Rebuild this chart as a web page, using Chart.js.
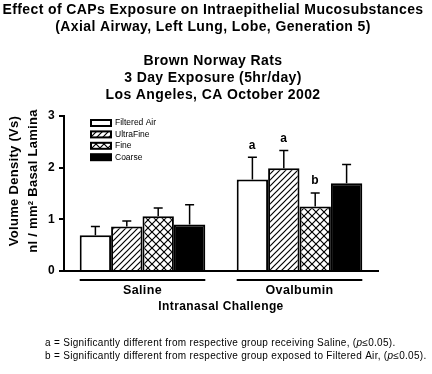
<!DOCTYPE html>
<html>
<head>
<meta charset="utf-8">
<script src="https://cdn.jsdelivr.net/npm/chart.js@4.4.1/dist/chart.umd.min.js"></script>
<style>
  html, body { margin: 0; padding: 0; background: #fff; }
  #wrap { width: 432px; height: 374px; }
</style>
</head>
<body>
<div id="wrap"><canvas id="chart"></canvas></div>
<script>
const groups = ["Saline", "Ovalbumin"];
const exposures = ["Filtered Air", "UltraFine", "Fine", "Coarse"];

const filteredAir = [0.69, 1.77];
const ultraFine = [0.86, 1.99];
const fine = [1.06, 1.25];
const coarse = [0.90, 1.70];

// upper error bars (SE)
const filteredAirErr = [0.17, 0.43];
const ultraFineErr = [0.11, 0.34];
const fineErr = [0.16, 0.26];
const coarseErr = [0.38, 0.36];

// significance letters above the bars
const filteredAirMarks = ["", "a"];
const ultraFineMarks = ["", "a"];
const fineMarks = ["", "b"];
const coarseMarks = ["", ""];

const yTicks = [0, 1, 2, 3];

const titleLines = [
  "Effect of CAPs Exposure on Intraepithelial Mucosubstances",
  "(Axial Airway, Left Lung, Lobe, Generation 5)",
  "",
  "Brown Norway Rats",
  "3 Day Exposure (5hr/day)",
  "Los Angeles, CA October 2002"
];
const yTitle = ["Volume Density (Vs)", "nl / mm\u00b2 Basal Lamina"];
const footnotes = [
  ["a = Significantly different from respective group receiving Saline, (", "p", "\u22640.05)."],
  ["b = Significantly different from respective group exposed to Filtered Air, (", "p", "\u22640.05)."]
];

const FONT = "'Liberation Sans', Arial, sans-serif";
Chart.defaults.font.family = FONT;
Chart.defaults.color = "#000";

function makePattern(size, draw) {
  const c = document.createElement("canvas");
  c.width = c.height = size;
  const g = c.getContext("2d");
  g.fillStyle = "#fff";
  g.fillRect(0, 0, size, size);
  g.strokeStyle = "#000";
  g.lineWidth = 1.2;
  draw(g, size);
  return g.createPattern(c, "repeat");
}

const slash = (g, s) => {
  g.beginPath();
  g.moveTo(0, s); g.lineTo(s, 0);
  g.moveTo(-1, 1); g.lineTo(1, -1);
  g.moveTo(s - 1, s + 1); g.lineTo(s + 1, s - 1);
  g.stroke();
};
const backslash = (g, s) => {
  g.beginPath();
  g.moveTo(0, 0); g.lineTo(s, s);
  g.moveTo(-1, s - 1); g.lineTo(1, s + 1);
  g.moveTo(s - 1, -1); g.lineTo(s + 1, 1);
  g.stroke();
};

const ultraFill = makePattern(6, slash);
const fineFill = makePattern(8, (g, s) => { slash(g, s); backslash(g, s); });

const datasets = [
  { label: exposures[0], data: filteredAir, err: filteredAirErr, marks: filteredAirMarks, backgroundColor: "#ffffff" },
  { label: exposures[1], data: ultraFine, err: ultraFineErr, marks: ultraFineMarks, backgroundColor: ultraFill },
  { label: exposures[2], data: fine, err: fineErr, marks: fineMarks, backgroundColor: fineFill },
  { label: exposures[3], data: coarse, err: coarseErr, marks: coarseMarks, backgroundColor: "#000000" }
].map(d => ({
  ...d,
  borderColor: "#000",
  borderWidth: 2,
  barPercentage: 1,
  categoryPercentage: 0.8
}));

const extras = {
  id: "extras",
  beforeDraw(chart) {
    // the original text is set a little looser than canvas default
    chart.ctx.letterSpacing = "0.4px";
  },
  afterDatasetsDraw(chart) {
    const ctx = chart.ctx;
    const y = chart.scales.y;
    const area = chart.chartArea;
    ctx.save();
    ctx.strokeStyle = "#000";
    ctx.fillStyle = "#000";

    // error bars + letters
    chart.data.datasets.forEach((ds, i) => {
      chart.getDatasetMeta(i).data.forEach((bar, j) => {
        const top = y.getPixelForValue(ds.data[j] + ds.err[j]);
        ctx.lineWidth = 1.5;
        ctx.beginPath();
        ctx.moveTo(bar.x, bar.y);
        ctx.lineTo(bar.x, top);
        ctx.moveTo(bar.x - 4.5, top);
        ctx.lineTo(bar.x + 4.5, top);
        ctx.stroke();
        if (ds.marks[j]) {
          ctx.font = "bold 12px " + FONT;
          ctx.textAlign = "center";
          ctx.textBaseline = "middle";
          ctx.fillText(ds.marks[j], bar.x, top - 12);
        }
      });
    });

    // group underline below the axis
    const first = chart.getDatasetMeta(0).data;
    const last = chart.getDatasetMeta(chart.data.datasets.length - 1).data;
    ctx.lineWidth = 2;
    groups.forEach((g, j) => {
      const x0 = first[j].x - first[j].width / 2;
      const x1 = last[j].x + last[j].width / 2;
      ctx.beginPath();
      ctx.moveTo(x0, area.bottom + 9);
      ctx.lineTo(x1, area.bottom + 9);
      ctx.stroke();
    });

    // y axis title (two rotated lines, sitting a bit above centre like the original)
    ctx.font = "bold 13px " + FONT;
    ctx.letterSpacing = "0.3px";
    ctx.textAlign = "center";
    ctx.textBaseline = "middle";
    yTitle.forEach((t, k) => {
      ctx.save();
      ctx.translate(14 + k * 19.5, 181);
      ctx.rotate(-Math.PI / 2);
      ctx.fillText(t, 0, 0);
      ctx.restore();
    });

    // legend
    ctx.letterSpacing = "0px";
    const lx = 91, ly = 123, step = 11.4;
    chart.data.datasets.forEach((ds, i) => {
      const yy = ly + i * step;
      ctx.fillStyle = ds.backgroundColor;
      ctx.fillRect(lx, yy - 3, 20, 6);
      ctx.lineWidth = 2;
      ctx.strokeRect(lx, yy - 3, 20, 6);
      ctx.fillStyle = "#000";
      ctx.font = "8.5px " + FONT;
      ctx.textAlign = "left";
      ctx.textBaseline = "middle";
      ctx.fillText(ds.label, lx + 24, yy);
    });

    // footnotes
    ctx.letterSpacing = "0.3px";
    ctx.textBaseline = "middle";
    ctx.textAlign = "left";
    footnotes.forEach((parts, k) => {
      let x = 45;
      const yy = 343 + k * 13;
      parts.forEach((p, m) => {
        ctx.font = (m === 1 ? "italic " : "") + "10px " + FONT;
        ctx.fillText(p, x, yy);
        x += ctx.measureText(p).width;
      });
    });
    ctx.restore();
  }
};

new Chart(document.getElementById("chart"), {
  type: "bar",
  data: { labels: groups, datasets },
  options: {
    responsive: true,
    maintainAspectRatio: false,
    animation: false,
    layout: { padding: { left: 0, right: 6, top: 0, bottom: 60 } },
    plugins: {
      legend: { display: false },
      tooltip: { enabled: false },
      title: {
        display: true,
        text: titleLines,
        font: { size: 14, weight: "bold", lineHeight: 1.214 },
        padding: { top: 2, bottom: 12 }
      }
    },
    scales: {
      x: {
        grid: { display: false, drawTicks: false },
        border: { display: true, color: "#000", width: 2 },
        ticks: { font: { size: 12.5, weight: "bold" }, padding: 12 },
        title: {
          display: true,
          text: "Intranasal Challenge",
          font: { size: 12, weight: "bold" },
          padding: { top: 2, bottom: 0 }
        },
        afterFit: s => { s.height = 43; }
      },
      y: {
        min: 0,
        max: 3,
        afterBuildTicks: s => { s.ticks = yTicks.map(v => ({ value: v })); },
        grid: { drawOnChartArea: false, drawTicks: true, tickLength: 5, color: "#000", lineWidth: 2 },
        border: { color: "#000", width: 2 },
        ticks: { font: { size: 12, weight: "bold" }, padding: 4 },
        afterFit: s => { s.width = 64; }
      },
      // empty right-hand margin so the plot stops where the original does
      gap: {
        position: "right",
        grid: { display: false },
        border: { display: false },
        ticks: { display: false },
        afterFit: s => { s.width = 48; }
      }
    }
  },
  plugins: [extras]
});
</script>
</body>
</html>
